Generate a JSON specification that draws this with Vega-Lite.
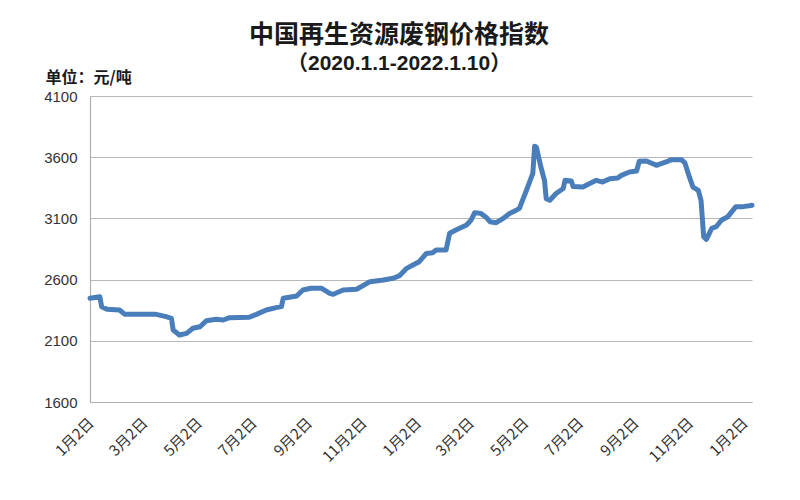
{
  "$schema": "https://vega.github.io/schema/vega-lite/v6.json",
  "width": 662,
  "height": 306,
  "autosize": {"type": "none"},
  "padding": {"left": 90, "top": 96, "right": 48, "bottom": 98},
  "background": "white",
  "config": {
    "view": {"stroke": null},
    "font": "Liberation Sans"
  },
  "title": {
    "text": "中国再生资源废钢价格指数",
    "subtitle": "（2020.1.1-2022.1.10）",
    "anchor": "middle",
    "frame": "bounds",
    "font": "Noto Sans CJK SC",
    "fontSize": 25,
    "fontWeight": "bold",
    "color": "#1a1a1a",
    "subtitleFont": "Liberation Sans, Noto Sans CJK SC",
    "subtitleFontSize": 21,
    "subtitleFontWeight": "bold",
    "subtitleColor": "#1a1a1a",
    "subtitlePadding": 5,
    "offset": -5
  },
  "data": {
    "values": [
      {"date": "2020-01-01", "price": 2447},
      {"date": "2020-01-12", "price": 2460},
      {"date": "2020-01-14", "price": 2379},
      {"date": "2020-01-20", "price": 2357},
      {"date": "2020-02-03", "price": 2352},
      {"date": "2020-02-09", "price": 2316},
      {"date": "2020-03-15", "price": 2316},
      {"date": "2020-03-26", "price": 2297},
      {"date": "2020-04-01", "price": 2284},
      {"date": "2020-04-03", "price": 2188},
      {"date": "2020-04-10", "price": 2147},
      {"date": "2020-04-18", "price": 2161},
      {"date": "2020-04-25", "price": 2202},
      {"date": "2020-05-03", "price": 2215},
      {"date": "2020-05-10", "price": 2264},
      {"date": "2020-05-21", "price": 2276},
      {"date": "2020-05-29", "price": 2270},
      {"date": "2020-06-05", "price": 2289},
      {"date": "2020-06-27", "price": 2292},
      {"date": "2020-07-05", "price": 2316},
      {"date": "2020-07-16", "price": 2352},
      {"date": "2020-07-27", "price": 2371},
      {"date": "2020-08-02", "price": 2379},
      {"date": "2020-08-04", "price": 2447},
      {"date": "2020-08-19", "price": 2466},
      {"date": "2020-08-26", "price": 2515},
      {"date": "2020-09-04", "price": 2529},
      {"date": "2020-09-16", "price": 2529},
      {"date": "2020-09-25", "price": 2488},
      {"date": "2020-09-29", "price": 2480},
      {"date": "2020-10-10", "price": 2515},
      {"date": "2020-10-25", "price": 2521},
      {"date": "2020-11-09", "price": 2583},
      {"date": "2020-11-24", "price": 2597},
      {"date": "2020-12-05", "price": 2611},
      {"date": "2020-12-12", "price": 2632},
      {"date": "2020-12-20", "price": 2692},
      {"date": "2020-12-27", "price": 2719},
      {"date": "2021-01-03", "price": 2746},
      {"date": "2021-01-11", "price": 2814},
      {"date": "2021-01-18", "price": 2819},
      {"date": "2021-01-22", "price": 2842},
      {"date": "2021-02-02", "price": 2842},
      {"date": "2021-02-06", "price": 2978},
      {"date": "2021-02-13", "price": 3005},
      {"date": "2021-02-25", "price": 3046},
      {"date": "2021-03-02", "price": 3087},
      {"date": "2021-03-06", "price": 3147},
      {"date": "2021-03-13", "price": 3141},
      {"date": "2021-03-19", "price": 3108},
      {"date": "2021-03-23", "price": 3073},
      {"date": "2021-03-30", "price": 3065},
      {"date": "2021-04-07", "price": 3100},
      {"date": "2021-04-14", "price": 3141},
      {"date": "2021-04-22", "price": 3169},
      {"date": "2021-04-25", "price": 3182},
      {"date": "2021-05-03", "price": 3332},
      {"date": "2021-05-10", "price": 3468},
      {"date": "2021-05-12", "price": 3690},
      {"date": "2021-05-14", "price": 3680},
      {"date": "2021-05-19", "price": 3520},
      {"date": "2021-05-23", "price": 3411},
      {"date": "2021-05-25", "price": 3261},
      {"date": "2021-05-29", "price": 3248},
      {"date": "2021-06-05", "price": 3303},
      {"date": "2021-06-13", "price": 3344},
      {"date": "2021-06-15", "price": 3411},
      {"date": "2021-06-22", "price": 3405},
      {"date": "2021-06-24", "price": 3361},
      {"date": "2021-07-05", "price": 3356},
      {"date": "2021-07-12", "price": 3383},
      {"date": "2021-07-20", "price": 3411},
      {"date": "2021-07-27", "price": 3397},
      {"date": "2021-08-04", "price": 3424},
      {"date": "2021-08-13", "price": 3430},
      {"date": "2021-08-17", "price": 3452},
      {"date": "2021-08-26", "price": 3479},
      {"date": "2021-09-03", "price": 3487},
      {"date": "2021-09-06", "price": 3567},
      {"date": "2021-09-14", "price": 3569},
      {"date": "2021-09-25", "price": 3534},
      {"date": "2021-10-06", "price": 3561},
      {"date": "2021-10-12", "price": 3580},
      {"date": "2021-10-23", "price": 3580},
      {"date": "2021-10-27", "price": 3553},
      {"date": "2021-11-01", "price": 3439},
      {"date": "2021-11-05", "price": 3356},
      {"date": "2021-11-11", "price": 3329},
      {"date": "2021-11-14", "price": 3248},
      {"date": "2021-11-17", "price": 2950},
      {"date": "2021-11-20", "price": 2929},
      {"date": "2021-11-26", "price": 3019},
      {"date": "2021-12-01", "price": 3032},
      {"date": "2021-12-07", "price": 3087},
      {"date": "2021-12-14", "price": 3114},
      {"date": "2021-12-23", "price": 3196},
      {"date": "2021-12-31", "price": 3196},
      {"date": "2022-01-07", "price": 3204},
      {"date": "2022-01-10", "price": 3208}
    ]
  },
  "mark": {
    "type": "line",
    "color": "#4a7ebb",
    "strokeWidth": 5,
    "strokeJoin": "round",
    "strokeCap": "round"
  },
  "encoding": {
    "x": {
      "field": "date",
      "type": "temporal",
      "title": null,
      "scale": {
        "type": "utc",
        "domain": [
          {"year": 2020, "month": 1, "date": 1, "utc": true},
          {"year": 2022, "month": 1, "date": 10, "utc": true}
        ],
        "nice": false
      },
      "axis": {
        "values": [
          {"year": 2020, "month": 1, "date": 2, "utc": true},
          {"year": 2020, "month": 3, "date": 2, "utc": true},
          {"year": 2020, "month": 5, "date": 2, "utc": true},
          {"year": 2020, "month": 7, "date": 2, "utc": true},
          {"year": 2020, "month": 9, "date": 2, "utc": true},
          {"year": 2020, "month": 11, "date": 2, "utc": true},
          {"year": 2021, "month": 1, "date": 2, "utc": true},
          {"year": 2021, "month": 3, "date": 2, "utc": true},
          {"year": 2021, "month": 5, "date": 2, "utc": true},
          {"year": 2021, "month": 7, "date": 2, "utc": true},
          {"year": 2021, "month": 9, "date": 2, "utc": true},
          {"year": 2021, "month": 11, "date": 2, "utc": true},
          {"year": 2022, "month": 1, "date": 2, "utc": true}
        ],
        "labelExpr": "utcFormat(datum.value, '%-m月%-d日')",
        "labelAngle": -45,
        "labelAlign": "right",
        "labelBaseline": "middle",
        "labelPadding": 18,
        "labelFont": "Noto Sans CJK SC",
        "labelFontSize": 15,
        "labelColor": "#333333",
        "labelOverlap": false,
        "labelFlush": false,
        "ticks": false,
        "grid": false,
        "domainColor": "#b0b0b0",
        "domainWidth": 1.2
      }
    },
    "y": {
      "field": "price",
      "type": "quantitative",
      "scale": {"domain": [1600, 4100], "nice": false, "zero": false},
      "axis": {
        "values": [1600, 2100, 2600, 3100, 3600, 4100],
        "format": "d",
        "title": "单位：元/吨",
        "titleAngle": 0,
        "titleX": -45,
        "titleY": -19,
        "titleAlign": "left",
        "titleBaseline": "middle",
        "titleFont": "Noto Sans CJK SC",
        "titleFontSize": 16,
        "titleFontWeight": "bold",
        "titleColor": "#1a1a1a",
        "labelFont": "Liberation Sans",
        "labelFontSize": 15,
        "labelColor": "#333333",
        "labelPadding": 13,
        "ticks": false,
        "grid": true,
        "gridColor": "#b8b8b8",
        "gridWidth": 1.2,
        "domainColor": "#b0b0b0",
        "domainWidth": 1.2
      }
    }
  }
}
